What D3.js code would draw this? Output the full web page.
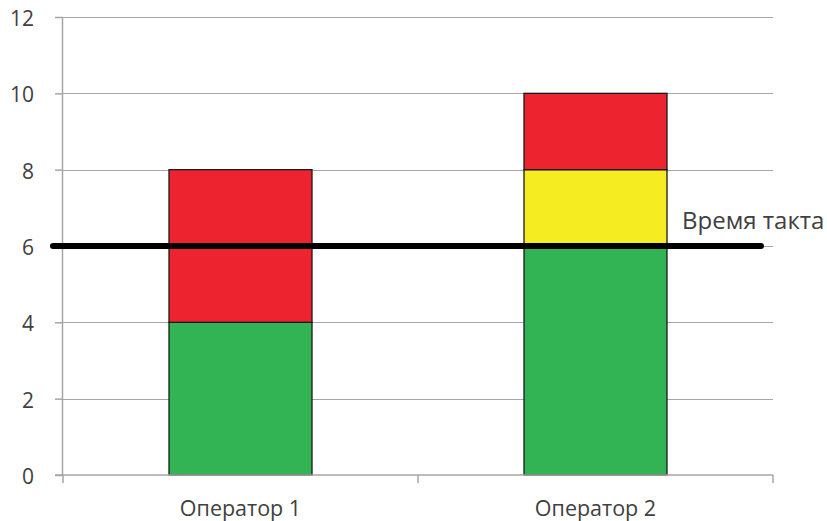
<!DOCTYPE html>
<html><head><meta charset="utf-8">
<script src="https://cdn.jsdelivr.net/npm/d3@7"></script>
<style>body{margin:0;background:#fff}svg{display:block}text{font-family:"Open Sans","DejaVu Sans",sans-serif}</style>
</head><body><svg id="c" width="827" height="521"></svg>
<script>
const categories = ["Оператор 1", "Оператор 2"];
const greenVals = [4, 6];
const yellowVals = [0, 2];
const redVals = [4, 2];
const taktTime = 6;
const taktLabel = "Время такта";
const yTicks = [0, 2, 4, 6, 8, 10, 12];

(function(){
const svg = d3.select("#c");
const mLeft = 63, mRight = 773, mTop = 17, mBottom = 475;
const x = d3.scalePoint().domain(categories).range([mLeft, mRight]).padding(0.5);
const y = d3.scaleLinear().domain([0, 12]).range([mBottom, mTop]);

svg.append("g").selectAll("line").data(yTicks.filter(d => d > 0)).join("line")
  .attr("x1", mLeft).attr("x2", mRight).attr("y1", d => Math.round(y(d)) + 0.5).attr("y2", d => Math.round(y(d)) + 0.5)
  .attr("stroke", "#a6a6a6").attr("stroke-width", 1.2);

const series = [
  {name: "green", color: "#33b454"},
  {name: "yellow", color: "#f5ec22"},
  {name: "red", color: "#ee2330"}
];
const rows = categories.map((c, i) => ({cat: c, green: greenVals[i], yellow: yellowVals[i], red: redVals[i]}));
const stack = d3.stack().keys(series.map(s => s.name))(rows);
const cmap = Object.fromEntries(series.map(s => [s.name, s.color]));

const bw = 143;
stack.forEach(layer => {
  svg.append("g").selectAll("rect").data(layer.filter(d => d[1] - d[0] > 0)).join("rect")
    .attr("x", d => x(d.data.cat) - bw/2)
    .attr("width", bw)
    .attr("y", d => y(d[1]))
    .attr("height", d => y(d[0]) - y(d[1]))
    .attr("fill", cmap[layer.key])
    .attr("stroke", "#1a1a1a").attr("stroke-width", 1.3);
});

const yAxis = d3.axisLeft(y).tickValues(yTicks).tickSize(8).tickPadding(21);
const ga = svg.append("g").attr("transform", `translate(${mLeft},0)`).call(yAxis);
ga.select(".domain").attr("stroke", "#a6a6a6").attr("stroke-width", 1.5).attr("d", `M-0.5,${mTop}V${mBottom}`);
ga.selectAll(".tick line").attr("stroke", "#a6a6a6").attr("stroke-width", 1.5);
ga.selectAll("text").attr("fill", "#404040").attr("font-size", 21).attr("dy", "0.4em");

const xb = d3.scaleLinear().domain([0, categories.length]).range([mLeft, mRight]);
const gx = svg.append("g").attr("transform", `translate(0,${mBottom})`);
gx.append("line").attr("x1", mLeft - 8).attr("x2", mRight).attr("stroke", "#a6a6a6").attr("stroke-width", 1.5);
gx.selectAll("line.t").data(d3.range(categories.length + 1)).join("line").attr("class", "t")
  .attr("x1", d => xb(d)).attr("x2", d => xb(d)).attr("y1", 0).attr("y2", 8)
  .attr("stroke", "#a6a6a6").attr("stroke-width", 1.5);
gx.selectAll("text").data(categories).join("text")
  .attr("x", d => x(d)).attr("y", 41)
  .attr("text-anchor", "middle").attr("fill", "#404040").attr("font-size", 21.5).text(d => d);

svg.append("line").attr("x1", 53).attr("x2", 761).attr("y1", y(taktTime)).attr("y2", y(taktTime))
  .attr("stroke", "#000").attr("stroke-width", 6).attr("stroke-linecap", "round");
svg.append("text").attr("x", 682).attr("y", 229).attr("fill", "#404040")
  .attr("font-size", 24).text(taktLabel);
})();
</script></body></html>
